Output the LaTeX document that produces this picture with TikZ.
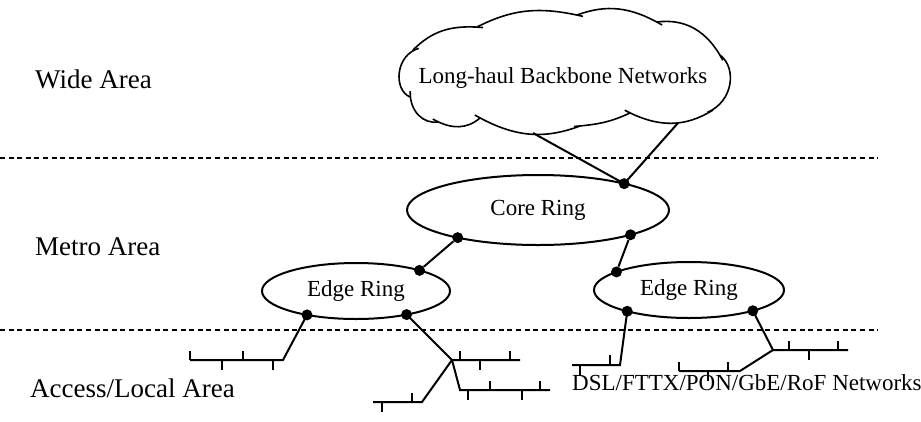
\documentclass[tikz,border=0pt]{standalone}
\usepackage{fontspec}
\setmainfont{Liberation Serif}
\usetikzlibrary{shapes.geometric}
\begin{document}
\begin{tikzpicture}[x=1pt,y=-1pt,
  ln/.style={line width=2pt},
  ringshape/.style={ellipse, draw, line width=2pt, inner sep=0pt, outer sep=0pt, font=\fontsize{23}{26}\selectfont},
  dot/.style={circle, fill=black, inner sep=0pt, minimum size=11pt},
  sepline/.style={line width=2pt, dash pattern=on 5pt off 3.6pt},
  area/.style={anchor=base west, inner sep=0pt, font=\fontsize{27}{30}\selectfont},
  lbl/.style={inner sep=0pt, font=\fontsize{23}{26}\selectfont},
  cl/.style={line width=1.6pt, shorten >=-6pt}
]
\useasboundingbox (0,0) rectangle (921,421);

% separators
\coordinate (s1a) at (0,158); \coordinate (s1b) at (878,158);
\coordinate (s2a) at (0,330); \coordinate (s2b) at (878,330);
\draw[sepline] (s1a) -- (s1b);
\draw[sepline] (s2a) -- (s2b);

% area labels
\node[area] (wide) at (35,88) {Wide Area};
\node[area] (metro) at (35,255) {Metro Area};
\node[area] (access) at (30,397) {Access/Local Area};

% cloud
\coordinate (j1) at (413,50);
\coordinate (j2) at (477,27);
\coordinate (j3) at (577,15);
\coordinate (j4) at (657,22);
\coordinate (j5) at (720,55);
\coordinate (j6) at (713,110);
\coordinate (j7) at (630,113);
\coordinate (j8) at (580,126);
\coordinate (j9) at (480,118);
\coordinate (j10) at (438,122);
\coordinate (j11) at (410,97);
\draw[cl] (j1) to[bend left=25] (j2);
\draw[cl] (j2) to[bend left=20] (j3);
\draw[cl] (j3) to[bend left=25] (j4);
\draw[cl] (j4) to[bend left=35] (j5);
\draw[cl] (j5) to[bend left=60] (j6);
\draw[cl] (j6) to[bend left=30] (j7);
\draw[cl] (j7) to[bend left=10] (j8);
\draw[cl] (j8) to[bend left=25] (j9);
\draw[cl] (j9) to[bend left=35] (j10);
\draw[cl] (j10) to[bend left=50] (j11);
\draw[cl] (j11) to[bend left=70] (j1);
\node[lbl, anchor=base] (cloudtxt) at (563,83) {Long-haul Backbone Networks};
\coordinate (ca) at (533,133);
\coordinate (cb) at (678,123);

% rings
\node[ringshape, minimum width=262pt, minimum height=70pt] (core) at (538,210) {Core Ring};
\node[ringshape, minimum width=188pt, minimum height=56pt] (el) at (356,291) {Edge Ring};
\node[ringshape, minimum width=190pt, minimum height=56pt] (er) at (689,290) {Edge Ring};

% dots
\node[dot] (dc1) at (core.17) {};
\node[dot] (dc2) at (core.199) {};
\node[dot] (dc3) at (core.345) {};
\node[dot] (dl1) at (el.18) {};
\node[dot] (dl2) at (el.206) {};
\node[dot] (dl3) at (el.335) {};
\node[dot] (dr1) at (er.166) {};
\node[dot] (dr2) at (er.199) {};
\node[dot] (dr3) at (er.342) {};

% connectors
\draw[ln] (ca) -- (dc1.center) -- (cb);
\draw[ln] (dc2) -- (dl1);
\draw[ln] (dc3) -- (dr1);

% access trees
\coordinate (ha) at (283,360);
\draw[ln] (dl2.center) -- (ha) -- (190,360);
\draw[ln] (190,351) -- (190,360) (222,360) -- (222,370) (243,360) -- (243,351) (273,360) -- (273,370);

\coordinate (hb) at (452,360);
\draw[ln] (dl3.center) -- (hb) -- (520,360);
\draw[ln] (460,360) -- (460,351) (480,360) -- (480,370) (510,360) -- (510,351);
\draw[ln] (hb) -- (460,390) -- (550,390);
\draw[ln] (468,390) -- (468,400) (490,390) -- (490,381) (522,390) -- (522,400) (540,390) -- (540,381);
\draw[ln] (hb) -- (422,402) -- (373,402);
\draw[ln] (412,402) -- (412,393) (382,402) -- (382,412);

\coordinate (hc) at (620,365);
\draw[ln] (dr2.center) -- (hc) -- (572,365);
\draw[ln] (610,365) -- (610,355) (580,365) -- (580,375);

\coordinate (hd) at (773,350);
\draw[ln] (dr3.center) -- (hd) -- (848,350);
\draw[ln] (789,350) -- (789,341) (809,350) -- (809,360) (838,350) -- (838,341);
\draw[ln] (hd) -- (740,371) -- (679,371);
\draw[ln] (679,371) -- (679,362) (728,371) -- (728,362) (708,371) -- (708,381);

\node[lbl, anchor=base west] (dsl) at (572,390) {DSL/FTTX/PON/GbE/RoF Networks};
\end{tikzpicture}
\end{document}
